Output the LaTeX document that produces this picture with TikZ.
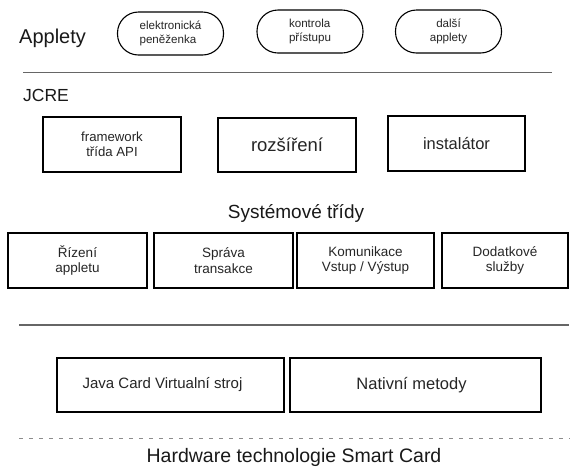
\documentclass[tikz,border=0pt]{standalone}
\usepackage{fontspec}
\setmainfont{Liberation Sans}
\begin{document}
\begin{tikzpicture}[x=1pt,y=-1pt,
  box/.style={draw=black,line width=1.8pt,inner sep=0pt,align=center,text=black!85},
  pill/.style={draw=black,line width=1.1pt,rounded corners=21pt,inner sep=0pt,minimum width=106pt,minimum height=43pt,text=black!85},
  sep/.style={draw=black!60,line width=1.3pt},
  dsep/.style={draw=black!45,line width=0.9pt,dash pattern=on 4pt off 6pt},
  lbl/.style={inner sep=0pt,text=black!90}]
\path[use as bounding box,fill=white] (0,0) rectangle (570,467);

% Applets row
\node[lbl,anchor=base west,font=\fontsize{20}{22}\selectfont] (app) at (19,43) {Applety};
\node[pill,align=left,font=\fontsize{11.6}{14}\selectfont] (e1) at (170.5,33.5) {elektronická\\peněženka};
\node[pill,align=left,font=\fontsize{11.6}{14}\selectfont] (e2) at (310,31.5) {kontrola\\přístupu};
\node[pill,align=center,font=\fontsize{11.6}{14}\selectfont] (e3) at (448.5,31.5) {další\\applety};

\coordinate (l1a) at (23,72.5);
\coordinate (l1b) at (552,72.5);
\draw[sep] (l1a) -- (l1b);

% JCRE
\node[lbl,anchor=base west,font=\fontsize{17.5}{20}\selectfont] (jcre) at (23,101) {JCRE};
\node[box,minimum width=138pt,minimum height=55pt,font=\fontsize{13.2}{15.5}\selectfont] (fw) at (112,144.5) {framework\\třída API};
\node[box,minimum width=138pt,minimum height=54pt,font=\fontsize{18.5}{21}\selectfont] (rz) at (287,145) {rozšíření};
\node[box,minimum width=137pt,minimum height=55pt,font=\fontsize{16.5}{19}\selectfont] (ins) at (456.5,143.5) {instalátor};

% System classes
\node[lbl,anchor=base,font=\fontsize{19}{22}\selectfont] (sys) at (296,218) {Systémové třídy};
\node[box,minimum width=139pt,minimum height=55pt,font=\fontsize{13.5}{15.5}\selectfont] (r1) at (77.5,260.5) {Řízení\\appletu};
\node[box,minimum width=139pt,minimum height=55pt,font=\fontsize{13.5}{15.5}\selectfont] (r2) at (223.5,260.5) {Správa\\transakce};
\node[box,minimum width=137pt,minimum height=55pt,font=\fontsize{13.5}{15.5}\selectfont] (r3) at (365.5,260.5) {Komunikace\\Vstup / Výstup};
\node[box,minimum width=126pt,minimum height=55pt,font=\fontsize{13.5}{15.5}\selectfont] (r4) at (505,260.5) {Dodatkové\\služby};

\coordinate (l2a) at (19,325);
\coordinate (l2b) at (569,325);
\draw[sep] (l2a) -- (l2b);

% VM row
\node[box,minimum width=227pt,minimum height=54pt,font=\fontsize{15}{18}\selectfont] (jv) at (170.5,385) {\hspace*{-16pt}\raisebox{2pt}{Java Card Virtualní stroj}};
\node[box,minimum width=251pt,minimum height=54pt,font=\fontsize{16.5}{19}\selectfont] (nm) at (415.5,385) {\hspace*{-8pt}\raisebox{2pt}{Nativní metody}};

\coordinate (l3a) at (19,438);
\coordinate (l3b) at (570,438);
\draw[dsep] (l3a) -- (l3b);

\node[lbl,anchor=base,font=\fontsize{19.5}{22}\selectfont] (hw) at (294,462) {Hardware technologie Smart Card};
\end{tikzpicture}
\end{document}
